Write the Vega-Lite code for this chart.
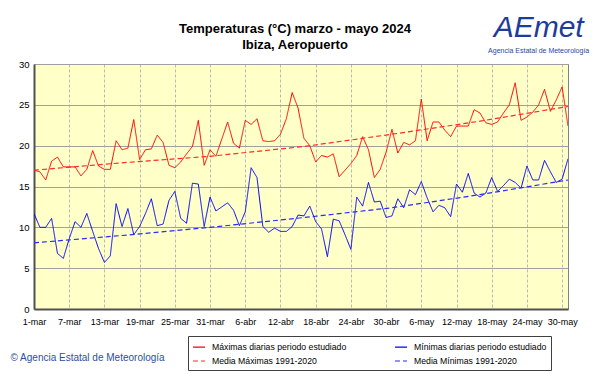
{
  "$schema": "https://vega.github.io/schema/vega-lite/v6.json",
  "width": 534,
  "height": 245,
  "autosize": {"type": "none"},
  "padding": {"left": 34, "top": 64, "right": 33, "bottom": 65},
  "background": "white",
  "title": {
    "text": "Temperaturas (°C) marzo - mayo 2024",
    "subtitle": "Ibiza, Aeropuerto",
    "anchor": "middle",
    "frame": "group",
    "font": "Liberation Sans",
    "subtitleFont": "Liberation Sans",
    "fontSize": 13,
    "subtitleFontSize": 13,
    "fontWeight": "bold",
    "subtitleFontWeight": "bold",
    "color": "#000000",
    "subtitleColor": "#000000",
    "subtitlePadding": 3,
    "offset": -39,
    "dx": -6
  },
  "datasets": {
    "obs": [
      {"date": "2024-03-01", "tmax": 17.0, "tmin": 11.7},
      {"date": "2024-03-02", "tmax": 16.8, "tmin": 10.0},
      {"date": "2024-03-03", "tmax": 15.8, "tmin": 10.0},
      {"date": "2024-03-04", "tmax": 18.1, "tmin": 11.1},
      {"date": "2024-03-05", "tmax": 18.6, "tmin": 6.8},
      {"date": "2024-03-06", "tmax": 17.4, "tmin": 6.2},
      {"date": "2024-03-07", "tmax": 17.4, "tmin": 8.6},
      {"date": "2024-03-08", "tmax": 17.4, "tmin": 10.7},
      {"date": "2024-03-09", "tmax": 16.3, "tmin": 10.0},
      {"date": "2024-03-10", "tmax": 17.1, "tmin": 11.7},
      {"date": "2024-03-11", "tmax": 19.4, "tmin": 9.5},
      {"date": "2024-03-12", "tmax": 17.5, "tmin": 7.4},
      {"date": "2024-03-13", "tmax": 17.1, "tmin": 5.7},
      {"date": "2024-03-14", "tmax": 17.1, "tmin": 6.5},
      {"date": "2024-03-15", "tmax": 20.6, "tmin": 12.9},
      {"date": "2024-03-16", "tmax": 19.5, "tmin": 10.1},
      {"date": "2024-03-17", "tmax": 19.7, "tmin": 12.3},
      {"date": "2024-03-18", "tmax": 23.2, "tmin": 9.1},
      {"date": "2024-03-19", "tmax": 18.3, "tmin": 10.1},
      {"date": "2024-03-20", "tmax": 19.5, "tmin": 11.7},
      {"date": "2024-03-21", "tmax": 19.6, "tmin": 13.5},
      {"date": "2024-03-22", "tmax": 21.3, "tmin": 10.2},
      {"date": "2024-03-23", "tmax": 20.4, "tmin": 10.4},
      {"date": "2024-03-24", "tmax": 17.6, "tmin": 13.3},
      {"date": "2024-03-25", "tmax": 17.3, "tmin": 14.4},
      {"date": "2024-03-26", "tmax": 18.0, "tmin": 11.1},
      {"date": "2024-03-27", "tmax": 19.0, "tmin": 10.5},
      {"date": "2024-03-28", "tmax": 19.9, "tmin": 15.4},
      {"date": "2024-03-29", "tmax": 23.1, "tmin": 15.3},
      {"date": "2024-03-30", "tmax": 17.6, "tmin": 10.1},
      {"date": "2024-03-31", "tmax": 19.5, "tmin": 13.7},
      {"date": "2024-04-01", "tmax": 18.7, "tmin": 12.0},
      {"date": "2024-04-02", "tmax": 20.8, "tmin": 12.5},
      {"date": "2024-04-03", "tmax": 22.9, "tmin": 13.0},
      {"date": "2024-04-04", "tmax": 20.3, "tmin": 12.1},
      {"date": "2024-04-05", "tmax": 19.7, "tmin": 10.2},
      {"date": "2024-04-06", "tmax": 23.1, "tmin": 11.9},
      {"date": "2024-04-07", "tmax": 22.6, "tmin": 17.3},
      {"date": "2024-04-08", "tmax": 23.3, "tmin": 16.1},
      {"date": "2024-04-09", "tmax": 20.6, "tmin": 10.1},
      {"date": "2024-04-10", "tmax": 20.5, "tmin": 9.4},
      {"date": "2024-04-11", "tmax": 20.6, "tmin": 9.9},
      {"date": "2024-04-12", "tmax": 21.4, "tmin": 9.5},
      {"date": "2024-04-13", "tmax": 23.3, "tmin": 9.5},
      {"date": "2024-04-14", "tmax": 26.5, "tmin": 10.1},
      {"date": "2024-04-15", "tmax": 24.6, "tmin": 11.5},
      {"date": "2024-04-16", "tmax": 20.9, "tmin": 11.4},
      {"date": "2024-04-17", "tmax": 20.0, "tmin": 12.6},
      {"date": "2024-04-18", "tmax": 18.0, "tmin": 10.7},
      {"date": "2024-04-19", "tmax": 18.8, "tmin": 9.8},
      {"date": "2024-04-20", "tmax": 18.6, "tmin": 6.4},
      {"date": "2024-04-21", "tmax": 19.0, "tmin": 11.0},
      {"date": "2024-04-22", "tmax": 16.2, "tmin": 10.8},
      {"date": "2024-04-23", "tmax": 17.0, "tmin": 9.1},
      {"date": "2024-04-24", "tmax": 17.8, "tmin": 7.3},
      {"date": "2024-04-25", "tmax": 18.8, "tmin": 13.7},
      {"date": "2024-04-26", "tmax": 21.1, "tmin": 12.6},
      {"date": "2024-04-27", "tmax": 19.5, "tmin": 15.5},
      {"date": "2024-04-28", "tmax": 16.1, "tmin": 13.1},
      {"date": "2024-04-29", "tmax": 17.1, "tmin": 13.2},
      {"date": "2024-04-30", "tmax": 19.2, "tmin": 11.2},
      {"date": "2024-05-01", "tmax": 22.0, "tmin": 11.4},
      {"date": "2024-05-02", "tmax": 19.1, "tmin": 13.5},
      {"date": "2024-05-03", "tmax": 20.4, "tmin": 12.4},
      {"date": "2024-05-04", "tmax": 20.1, "tmin": 14.6},
      {"date": "2024-05-05", "tmax": 20.6, "tmin": 14.0},
      {"date": "2024-05-06", "tmax": 25.7, "tmin": 15.6},
      {"date": "2024-05-07", "tmax": 20.6, "tmin": 13.6},
      {"date": "2024-05-08", "tmax": 22.9, "tmin": 11.9},
      {"date": "2024-05-09", "tmax": 22.9, "tmin": 12.7},
      {"date": "2024-05-10", "tmax": 21.9, "tmin": 12.4},
      {"date": "2024-05-11", "tmax": 21.1, "tmin": 11.3},
      {"date": "2024-05-12", "tmax": 22.4, "tmin": 15.3},
      {"date": "2024-05-13", "tmax": 22.4, "tmin": 14.3},
      {"date": "2024-05-14", "tmax": 22.4, "tmin": 16.6},
      {"date": "2024-05-15", "tmax": 24.4, "tmin": 14.2},
      {"date": "2024-05-16", "tmax": 24.0, "tmin": 13.7},
      {"date": "2024-05-17", "tmax": 22.8, "tmin": 14.2},
      {"date": "2024-05-18", "tmax": 22.6, "tmin": 16.1},
      {"date": "2024-05-19", "tmax": 22.9, "tmin": 14.4},
      {"date": "2024-05-20", "tmax": 24.0, "tmin": 15.1},
      {"date": "2024-05-21", "tmax": 25.0, "tmin": 15.9},
      {"date": "2024-05-22", "tmax": 27.7, "tmin": 15.5},
      {"date": "2024-05-23", "tmax": 23.1, "tmin": 14.8},
      {"date": "2024-05-24", "tmax": 23.5, "tmin": 17.5},
      {"date": "2024-05-25", "tmax": 24.1, "tmin": 15.8},
      {"date": "2024-05-26", "tmax": 25.0, "tmin": 15.8},
      {"date": "2024-05-27", "tmax": 26.9, "tmin": 18.2},
      {"date": "2024-05-28", "tmax": 24.2, "tmin": 16.8},
      {"date": "2024-05-29", "tmax": 25.6, "tmin": 15.5},
      {"date": "2024-05-30", "tmax": 27.2, "tmin": 15.9},
      {"date": "2024-05-31", "tmax": 22.4, "tmin": 18.4}
    ],
    "mean": [
      {"date": "2024-03-01", "mmax": 17.0, "mmin": 8.1},
      {"date": "2024-03-16", "mmax": 17.9, "mmin": 9.0},
      {"date": "2024-03-31", "mmax": 18.7, "mmin": 10.0},
      {"date": "2024-04-16", "mmax": 19.9, "mmin": 11.2},
      {"date": "2024-05-01", "mmax": 21.4, "mmin": 12.4},
      {"date": "2024-05-16", "mmax": 23.0, "mmin": 14.0},
      {"date": "2024-05-31", "mmax": 24.8, "mmin": 15.8}
    ]
  },
  "layer": [
    {
      "data": {"name": "obs"},
      "transform": [{"fold": ["tmax", "tmin"], "as": ["serie", "t"]}],
      "mark": {"type": "line", "strokeWidth": 1, "clip": true},
      "encoding": {
        "x": {
          "field": "date",
          "type": "temporal",
          "scale": {"type": "utc", "domain": [{"year": 2024, "month": 3, "date": 1, "utc": true}, {"year": 2024, "month": 5, "date": 31, "utc": true}], "nice": false},
          "axis": {
            "values": [
              {"year": 2024, "month": 3, "date": 1, "utc": true},
              {"year": 2024, "month": 3, "date": 7, "utc": true},
              {"year": 2024, "month": 3, "date": 13, "utc": true},
              {"year": 2024, "month": 3, "date": 19, "utc": true},
              {"year": 2024, "month": 3, "date": 25, "utc": true},
              {"year": 2024, "month": 3, "date": 31, "utc": true},
              {"year": 2024, "month": 4, "date": 6, "utc": true},
              {"year": 2024, "month": 4, "date": 12, "utc": true},
              {"year": 2024, "month": 4, "date": 18, "utc": true},
              {"year": 2024, "month": 4, "date": 24, "utc": true},
              {"year": 2024, "month": 4, "date": 30, "utc": true},
              {"year": 2024, "month": 5, "date": 6, "utc": true},
              {"year": 2024, "month": 5, "date": 12, "utc": true},
              {"year": 2024, "month": 5, "date": 18, "utc": true},
              {"year": 2024, "month": 5, "date": 24, "utc": true},
              {"year": 2024, "month": 5, "date": 30, "utc": true}
            ],
            "tickCount": 30,
            "labelExpr": "utcdate(datum.value) + '-' + ['ene','feb','mar','abr','may','jun'][utcmonth(datum.value)]",
            "labelAngle": 0,
            "labelPadding": 8,
            "labelOverlap": false,
            "labelFlush": false,
            "labelFontSize": 9,
            "grid": true,
            "gridDash": [3, 2],
            "gridColor": "#b8b8b8",
            "title": "© Agencia Estatal de Meteorología",
            "titleX": -24,
            "titleY": 48,
            "titleAlign": "left",
            "titleAnchor": "start",
            "titleBaseline": "middle",
            "titleFont": "Liberation Sans",
            "titleFontSize": 10,
            "titleFontWeight": "normal",
            "titleColor": "#2a4fa0"
          }
        },
        "y": {
          "field": "t",
          "type": "quantitative",
          "scale": {"domain": [0, 30], "nice": false, "zero": false},
          "axis": {"values": [0, 5, 10, 15, 20, 25, 30], "tickCount": 10, "grid": true, "gridColor": "#a0a0a0", "labelPadding": 5, "labelFlush": false, "title": null}
        },
        "color": {
          "field": "serie",
          "type": "nominal",
          "scale": {"domain": ["tmax", "tmin", "mmax", "mmin"], "range": ["#ff0000", "#0000ff", "#ff2a2a", "#2a2aff"]},
          "legend": {"orient": "none", "legendX": 154, "legendY": 272, "columns": 2, "direction": "horizontal", "title": null, "labelExpr": "datum.value == 'tmax' ? 'Máximas diarias periodo estudiado' : datum.value == 'tmin' ? 'Mínimas diarias periodo estudiado' : datum.value == 'mmax' ? 'Media Máximas 1991-2020' : 'Media Mínimas 1991-2020'"}
        },
        "strokeDash": {
          "field": "serie",
          "type": "nominal",
          "scale": {"domain": ["tmax", "tmin", "mmax", "mmin"], "range": [[1, 0], [1, 0], [5, 3], [5, 3]]},
          "legend": {"orient": "none", "legendX": 154, "legendY": 272, "columns": 2, "direction": "horizontal", "title": null, "labelExpr": "datum.value == 'tmax' ? 'Máximas diarias periodo estudiado' : datum.value == 'tmin' ? 'Mínimas diarias periodo estudiado' : datum.value == 'mmax' ? 'Media Máximas 1991-2020' : 'Media Mínimas 1991-2020'"}
        }
      }
    },
    {
      "data": {"name": "mean"},
      "transform": [{"fold": ["mmax", "mmin"], "as": ["serie", "t"]}],
      "mark": {"type": "line", "strokeWidth": 1.2, "clip": true},
      "encoding": {
        "x": {"field": "date", "type": "temporal"},
        "y": {"field": "t", "type": "quantitative"},
        "color": {"field": "serie", "type": "nominal"},
        "strokeDash": {"field": "serie", "type": "nominal"}
      }
    },
    {
      "data": {"values": [{}]},
      "mark": {"type": "text", "fontSize": 30, "fontStyle": "italic", "font": "Liberation Sans", "color": "#1d3c9a", "align": "center", "baseline": "middle"},
      "encoding": {
        "x": {"datum": {"year": 2024, "month": 5, "date": 26, "utc": true}, "type": "temporal"},
        "y": {"datum": 34.4, "type": "quantitative"},
        "text": {"value": "AEmet"}
      }
    },
    {
      "data": {"values": [{}]},
      "mark": {"type": "text", "fontSize": 7, "font": "Liberation Sans", "color": "#2848a0", "align": "center", "baseline": "middle"},
      "encoding": {
        "x": {"datum": {"year": 2024, "month": 5, "date": 26, "utc": true}, "type": "temporal"},
        "y": {"datum": 31.6, "type": "quantitative"},
        "text": {"value": "Agencia Estatal de Meteorología"}
      }
    }
  ],
  "config": {
    "font": "Liberation Sans",
    "view": {"fill": "#FFFFC8", "stroke": "#808080", "strokeWidth": 1},
    "axis": {
      "labelFont": "Liberation Sans",
      "labelFontSize": 9.5,
      "labelColor": "#000000",
      "ticks": false,
      "domainColor": "#505050",
      "domainWidth": 2,
      "gridOpacity": 1
    },
    "legend": {
      "symbolType": "stroke",
      "symbolSize": 144,
      "symbolStrokeWidth": 1.2,
      "labelFont": "Liberation Sans",
      "labelFontSize": 8.7,
      "labelColor": "#000000",
      "labelLimit": 0,
      "labelOffset": 6,
      "padding": 4,
      "rowPadding": 2,
      "columnPadding": 45,
      "strokeColor": "#404040",
      "fillColor": "#ffffff"
    }
  }
}
